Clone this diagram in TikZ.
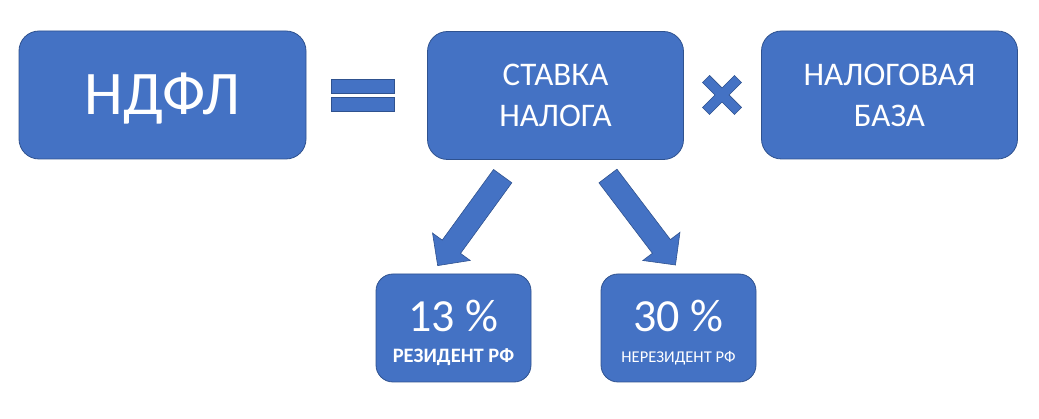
\documentclass[tikz,border=0pt]{standalone}
\usepackage{fontspec}
\setmainfont{Carlito}
\usetikzlibrary{shapes.arrows}
\definecolor{boxblue}{HTML}{4472C4}
\definecolor{boxedge}{HTML}{2F528F}
\begin{document}
\begin{tikzpicture}[x=1pt,y=-1pt,
  bigbox/.style={rectangle, rounded corners=20pt, fill=boxblue, draw=boxedge,
    line width=0.8pt, text=white, align=center, inner sep=0pt,
    minimum width=#1, minimum height=128pt, text depth=0pt},
  bigbox/.default=256pt,
  smallbox/.style={rectangle, rounded corners=17pt, fill=boxblue, draw=boxedge,
    line width=0.8pt, text=white, align=center, inner sep=0pt,
    minimum width=155pt, minimum height=108pt, text depth=0pt,
    font=\fontsize{46}{32}\selectfont},
  blockarrow/.style={single arrow, fill=boxblue, draw=boxedge, line width=0.6pt,
    minimum width=46pt, single arrow head extend=12pt, inner xsep=0pt,
    inner ysep=11pt, text height=0pt, text depth=0pt,
    single arrow tip angle=90},
  opshape/.style={fill=boxblue, draw=boxedge, line width=0.6pt},
  twoline/.style={font=\fontsize{33}{41}\selectfont}
]
\useasboundingbox (0,0) rectangle (1039,419);

% main boxes
\node[bigbox=287pt, font=\fontsize{62}{70}\selectfont, text height=39pt]
  (ndfl) at (162.5,95) {НДФЛ};
\node[bigbox, twoline] (rate) at (555.5,95.5) {СТАВКА\\НАЛОГА};
\node[bigbox, twoline] (base) at (889.5,95) {НАЛОГОВАЯ\\БАЗА};

% equals sign
\fill[opshape] (331,79) rectangle (394,93);
\fill[opshape] (331,97) rectangle (394,111);

% multiplication sign
\begin{scope}[shift={(722,95)}, rotate=45]
  \filldraw[opshape] (-5,-22.6) -- (5,-22.6) -- (5,-5) -- (22.6,-5) -- (22.6,5)
    -- (5,5) -- (5,22.6) -- (-5,22.6) -- (-5,5) -- (-22.6,5) -- (-22.6,-5)
    -- (-5,-5) -- cycle;
\end{scope}

% result boxes
\node[smallbox, text height=70pt] (res) at (453.5,328)
  {13~\%\\{\fontsize{20.5}{32}\selectfont\bfseries РЕЗИДЕНТ РФ}};
\node[smallbox, text height=70pt] (nonres) at (678.5,328)
  {30~\%\\{\fontsize{16.5}{32}\selectfont НЕРЕЗИДЕНТ РФ}};

% block arrows
\node[blockarrow, minimum height=110.6pt, rotate=234] (a1) at (473.5,216.3) {};
\node[blockarrow, minimum height=111.7pt, rotate=-52.8] (a2) at (638.3,216) {};
\end{tikzpicture}
\end{document}
